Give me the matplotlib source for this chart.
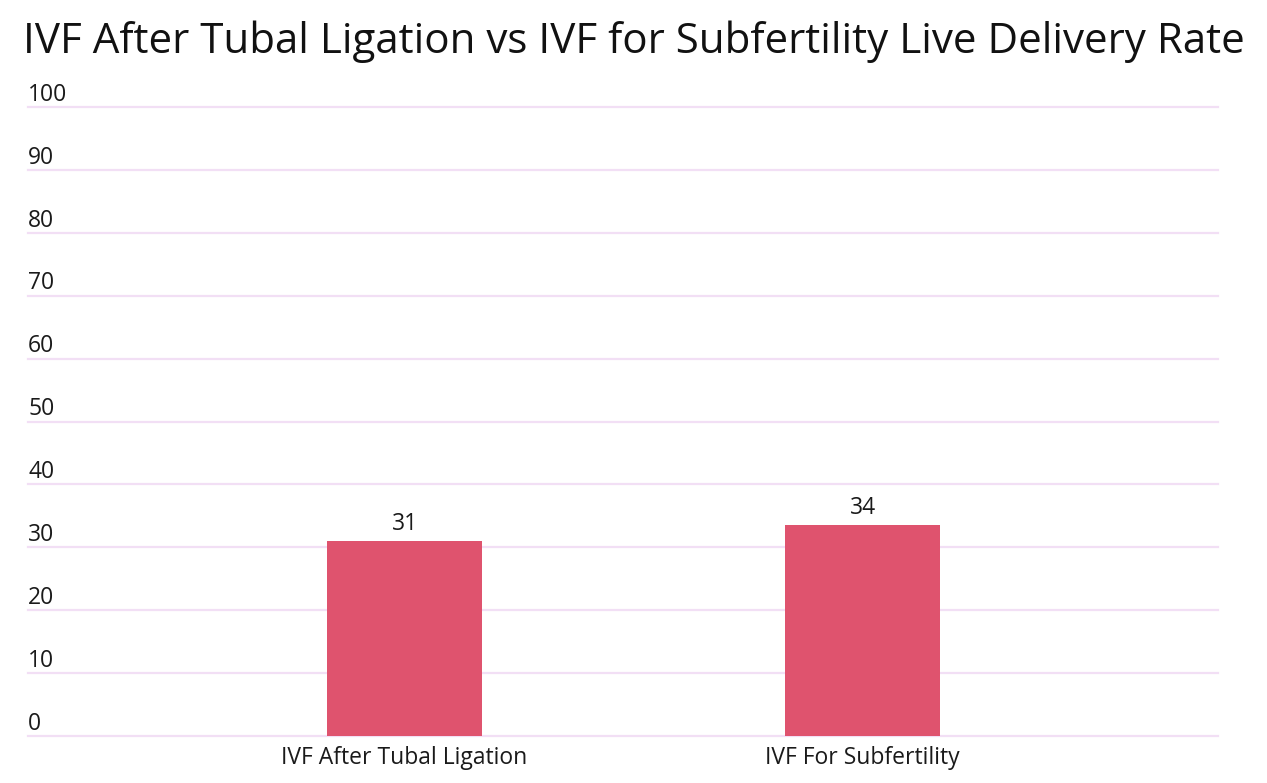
import matplotlib.pyplot as plt
import numpy as np

categories = ['IVF After Tubal Ligation', 'IVF For Subfertility']
values = [31, 33.5]
value_labels = ['31', '34']
y_ticks = [0, 10, 20, 30, 40, 50, 60, 70, 80, 90, 100]

plt.rcParams['font.family'] = ['Open Sans', 'DejaVu Sans']

fig = plt.figure(figsize=(12.67, 7.83), dpi=100)
ax = fig.add_axes([0.0221, 0.0600, 0.9392, 0.8033])

x = np.arange(len(categories))
bars = ax.bar(x, values, width=0.338, color='#df536e', zorder=3)

for b, lab in zip(bars, value_labels):
    ax.text(b.get_x() + b.get_width() / 2, b.get_height() + 1.75, lab,
            ha='center', va='baseline', fontsize=16.5, color='#1a1a1a')

ax.set_xlim(-0.822, 1.776)
ax.set_ylim(0, 100)
ax.set_yticks(y_ticks)
ax.set_yticklabels([])
ax.tick_params(axis='y', length=0)
ax.yaxis.grid(True, color='#f2dff5', linewidth=1.6, zorder=0)
for line in ax.get_ygridlines():
    line.set_clip_on(False)

# y labels sit inside the plot, just above each grid line
for t in y_ticks:
    ax.text(0.0, t + 1.0, str(t), transform=ax.get_yaxis_transform(),
            ha='left', va='baseline', fontsize=16.5, color='#1a1a1a')

ax.set_xticks(x)
ax.set_xticklabels(categories, fontsize=16.5, color='#1a1a1a')
ax.tick_params(axis='x', length=0, pad=7)

for s in ax.spines.values():
    s.set_visible(False)

fig.text(0.5, 0.932, 'IVF After Tubal Ligation vs IVF for Subfertility Live Delivery Rate',
         ha='center', va='baseline', fontsize=30.3, color='#111111')

fig.savefig('out.png', dpi=100)
